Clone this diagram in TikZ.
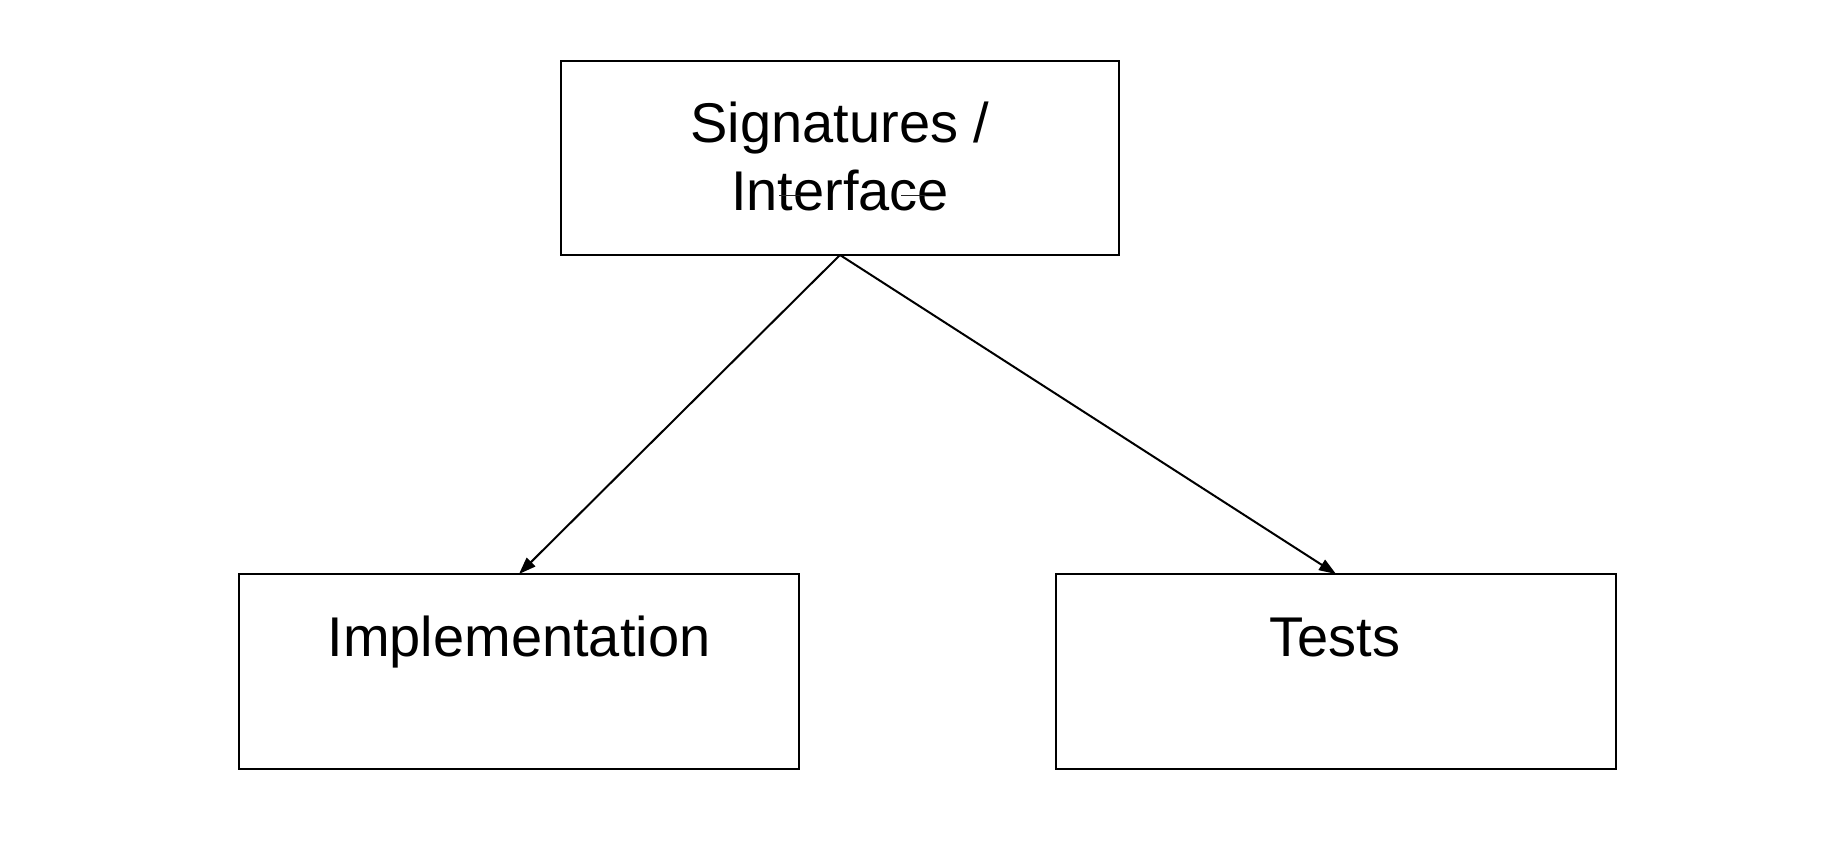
\documentclass[tikz,border=0pt]{standalone}
\usepackage{fontspec}
\setmainfont{Liberation Sans}
\usetikzlibrary{arrows.meta}
\begin{document}
\begin{tikzpicture}[x=1pt,y=-1pt,
  boxstyle/.style={draw=black,line width=2pt,fill=white,rectangle,inner sep=0pt,outer sep=0pt},
  lbl/.style={anchor=base,inner sep=0pt,font=\fontsize{56}{67}\selectfont},
  conn/.style={line width=2pt,-{Triangle[length=17pt,width=12pt]}},
  artifact/.style={line width=1pt,draw=black!85}]
\useasboundingbox (0,0) rectangle (1836,854);
\fill[white] (0,0) rectangle (1836,854);
% boxes
\node[boxstyle,minimum width=558pt,minimum height=194pt] (sigbox) at (840,158) {};
\node[boxstyle,minimum width=560pt,minimum height=195pt] (implbox) at (519,671.5) {};
\node[boxstyle,minimum width=560pt,minimum height=195pt] (testbox) at (1336,671.5) {};
% texts
\node[lbl] (sig) at (840,142.7) {Signatures /};
\node[lbl] (intf) at (840,210) {Interface};
\node[lbl] (impl) at (519,656) {Implementation};
\node[lbl] (tests) at (1335,656) {Tests};
% artifacts on Interface
\draw[artifact] (779,195) -- (800,195);
\draw[artifact] (901,195) -- (926,195);
% connectors
\draw[conn] (sigbox.south) -- (implbox.north);
\draw[conn] (sigbox.south) -- (testbox.north);
\end{tikzpicture}
\end{document}
